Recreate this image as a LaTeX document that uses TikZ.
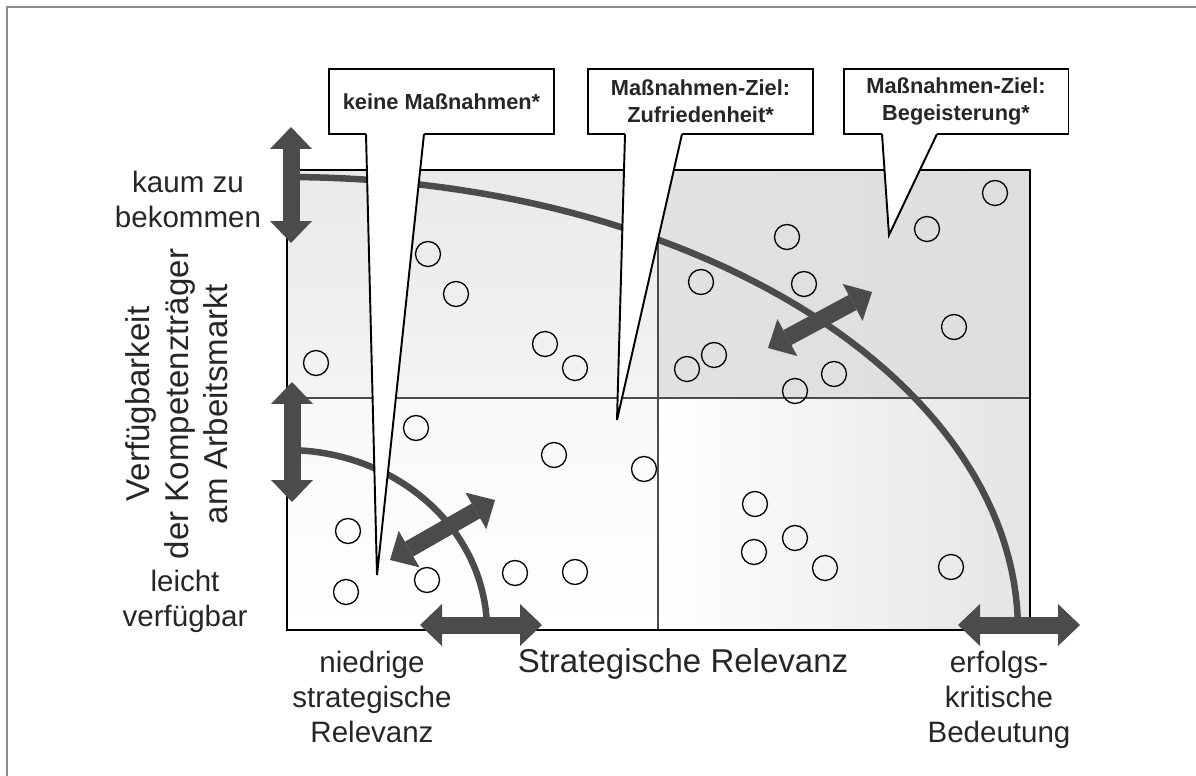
\documentclass[tikz,border=0pt]{standalone}
\usepackage{fontspec}
\setmainfont{Liberation Sans}
\usepackage{tikz}
\usetikzlibrary{arrows.meta,positioning}
\definecolor{arrowgray}{HTML}{4B4B4B}
\definecolor{framegray}{HTML}{8C8C8C}
\tikzset{%
  callout/.style   = {shape=rectangle, draw, line width=1.1pt, fill=white,%
                      minimum width=4.5cm, minimum height=1.3cm, align=center,%
                      font=\bfseries\fontsize{12.4}{15.6}\selectfont},%
  tailline/.style  = {line width=1.1pt, line join=miter},%
  member/.style    = {circle, draw, line width=.75pt, inner sep=0pt, minimum size=.5cm},%
  fatarrow/.style  = {draw=arrowgray, line width=.34cm,%
                      {Triangle[length=.44cm,width=.84cm,line width=0pt]}-{Triangle[length=.44cm,width=.84cm,line width=0pt]}},%
  curve line/.style= {draw=arrowgray, line width=.13cm},%
  sidetext/.style  = {align=center, font=\fontsize{16.8}{19.9}\selectfont},%
  axistitle/.style = {align=center, font=\fontsize{18.8}{22.1}\selectfont}%
}

\begin{document}
\begin{tikzpicture}[x=0.02cm, y=-0.02cm, every node/.style={text=black!85}]
  \useasboundingbox (0,0) rectangle (1196,776);
  \draw[framegray, line width=1.1pt] (7,776) -- (7,7) -- (1196,7);
  % -------------- QUADRANTS -----------------------------
  \shade[top color=gray!17, bottom color=gray!9] (287,170) rectangle (658,398);
  \shade[left color=gray!23, right color=gray!26] (658,170) rectangle (1030,398);
  \shade[top color=gray!5, bottom color=white] (287,398) rectangle (658,630);
  \shade[left color=white, right color=gray!21] (658,398) rectangle (1030,630);
  \draw[black!70, line width=.7pt] (658,170) -- (658,630) (287,398) -- (1030,398);
  % -------------- LIMIT CURVES -----------------------------
  \draw[curve line] plot[domain=90:0, samples=60] ({287+731*cos(\x)},{630-453*sin(\x)});
  \draw[curve line] plot[domain=90:0, samples=40] ({287+200*cos(\x)},{630-180*sin(\x)});
  % -------------- COMPETENCES -----------------------------
  \foreach \x/\y [count=\i] in {428/254, 456/294, 316/363, 545/344, 575/368,%
        416/428, 554/455, 644/469, 348/531, 346/592, 427/580, 515/573, 575/572,%
        701/282, 787/237, 804/284, 714/355, 687/369, 834/374, 795/391,%
        927/229, 995/193, 954/327, 755/504, 795/538, 754/552, 825/568, 951/567}
    \node[member] (m\i) at (\x,\y) {};
  \draw[line width=1.5pt] (287,170) rectangle (1030,630);
  % -------------- CALLOUTS -----------------------------
  \node[callout] (none) at (441.5,101.5) {keine Maßnahmen*};
  \node[callout] (satis) at (700.5,101.5) {Maßnahmen-Ziel:\\Zufriedenheit*};
  \node[callout] (enth) at (956,101.5) {Maßnahmen-Ziel:\\Begeisterung*};
  \coordinate (tipnone) at (377,575);
  \coordinate (tipsatis) at (617,420);
  \coordinate (tipenth) at (889,235);
  \fill[white] (366,129) -- (366,134) -- (tipnone) -- (424,134) -- (424,129) -- cycle;
  \draw[tailline] (366,134) -- (tipnone) -- (424,134);
  \fill[white] (625,129) -- (625,134) -- (tipsatis) -- (682,134) -- (682,129) -- cycle;
  \draw[tailline] (625,134) -- (tipsatis) -- (682,134);
  \fill[white] (882,129) -- (882,134) -- (tipenth) -- (937,134) -- (937,129) -- cycle;
  \draw[tailline] (882,134) -- (tipenth) -- (937,134);
  % -------------- DOUBLE ARROWS -----------------------------
  \coordinate (hardtop) at (291,127);   \coordinate (hardbot) at (291,243);
  \coordinate (easytop) at (292,382);   \coordinate (easybot) at (292,502);
  \coordinate (lowleft) at (420,625);   \coordinate (lowright) at (542,625);
  \coordinate (critleft) at (958,625);  \coordinate (critright) at (1080,625);
  \coordinate (smalla) at (390,560);    \coordinate (smallb) at (495,500);
  \coordinate (biga) at (768,348);      \coordinate (bigb) at (872,292);
  \draw[fatarrow] (hardtop) -- (hardbot);
  \draw[fatarrow] (easytop) -- (easybot);
  \draw[fatarrow] (lowleft) -- (lowright);
  \draw[fatarrow] (critleft) -- (critright);
  \draw[fatarrow] (smalla) -- (smallb);
  \draw[fatarrow] (biga) -- (bigb);
  % -------------- AXIS TEXTS -----------------------------
  \node[sidetext] (hard) at (188,199) {kaum zu\\bekommen};
  \node[sidetext] (easy) at (185,601) {leicht\\verfügbar};
  \node[axistitle, rotate=90] (avail) at (177,404) {Verfügbarkeit\\der Kompetenzträger\\am Arbeitsmarkt};
  \node[sidetext] (low) at (372,697) {niedrige\\strategische\\Relevanz};
  \node[axistitle] (strat) at (683,664) {Strategische Relevanz};
  \node[sidetext] (crit) at (999,700) {erfolgs-\\kritische\\Bedeutung};
\end{tikzpicture}
\end{document}
